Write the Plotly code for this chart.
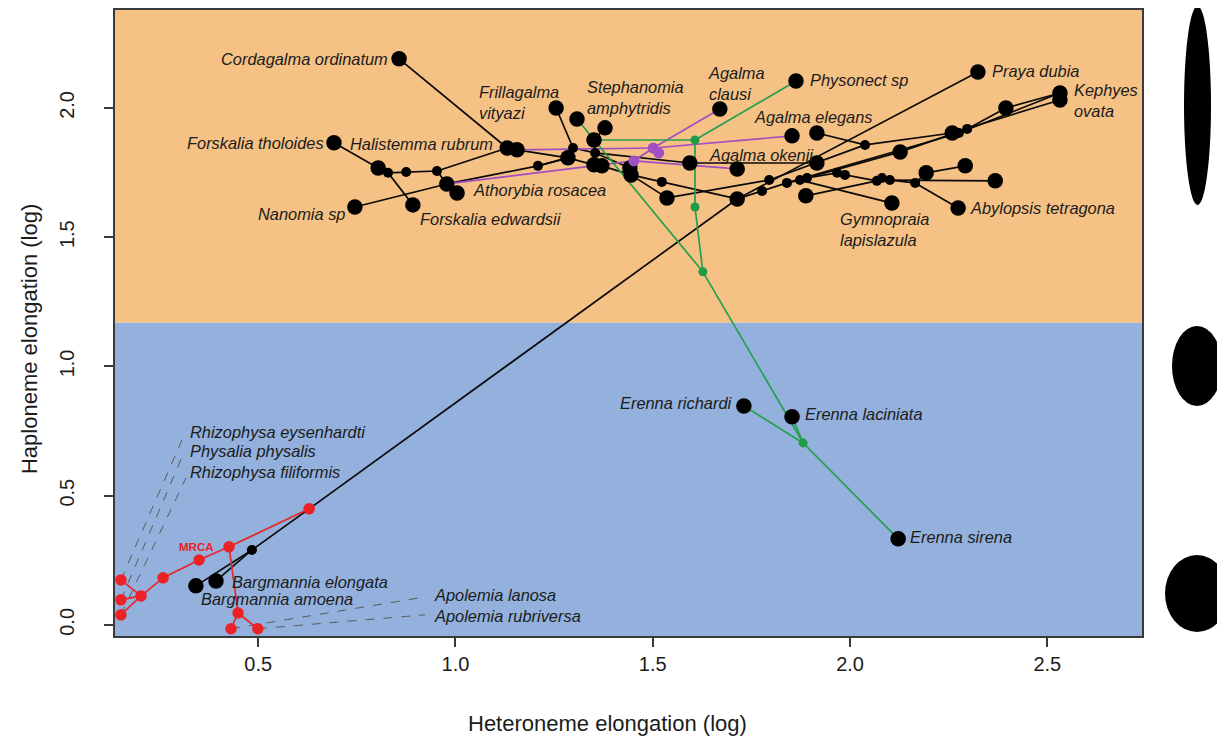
import plotly.graph_objects as go

# ---------------- data (log elongation values) ----------------
# node order: red (Cystonectae/Apolemia) part, Bargmannia, then Codonophora
node_x = [0.152, 0.152, 0.152, 0.203, 0.259, 0.350, 0.426, 0.449, 0.431, 0.499, 0.629,
          0.342, 0.393, 0.484,
          0.857, 0.692, 0.745, 0.892, 0.804, 0.829, 0.875, 0.953, 0.978, 1.004, 1.131, 1.156,
          1.209, 1.255, 1.308, 1.379, 1.351, 1.298, 1.354, 1.285, 1.351, 1.371, 1.442, 1.445,
          1.452, 1.501, 1.670, 1.607, 1.863, 1.594, 1.714, 1.853, 1.916, 1.523, 1.536, 1.607,
          1.627, 1.881, 1.731, 1.853, 2.122, 1.714, 1.777, 1.795, 1.840, 1.873, 1.891, 1.916,
          1.967, 1.987, 2.038, 2.127, 1.888, 2.068, 2.081, 2.101, 2.106, 2.165, 2.193, 2.259,
          2.276, 2.297, 2.292, 2.368, 2.274, 2.395, 2.324, 2.532, 2.532, 1.515]
node_y = [0.174, 0.097, 0.039, 0.112, 0.182, 0.251, 0.302, 0.046, -0.015, -0.015, 0.449,
          0.151, 0.170, 0.290,
          2.190, 1.865, 1.617, 1.625, 1.768, 1.749, 1.752, 1.756, 1.706, 1.671, 1.845, 1.838,
          1.776, 2.000, 1.957, 1.923, 1.876, 1.845, 1.826, 1.807, 1.780, 1.776, 1.768, 1.741,
          1.795, 1.845, 1.996, 1.876, 2.104, 1.787, 1.764, 1.892, 1.903, 1.714, 1.652, 1.617,
          1.366, 0.704, 0.847, 0.805, 0.333, 1.648, 1.679, 1.721, 1.710, 1.721, 1.729, 1.787,
          1.749, 1.741, 1.857, 1.830, 1.660, 1.718, 1.729, 1.721, 1.632, 1.710, 1.749, 1.903,
          1.903, 1.919, 1.776, 1.718, 1.613, 2.000, 2.139, 2.058, 2.031, 1.826]
node_kind = (['tip'] * 3 + ['node'] * 5 + ['tip'] * 2 + ['node']
             + ['tip', 'tip', 'node']
             + ['tip', 'tip', 'tip', 'tip', 'tip', 'node', 'node', 'node', 'tip', 'tip', 'tip', 'tip',
                'node', 'tip', 'tip', 'tip', 'tip', 'node', 'node', 'tip', 'tip', 'tip', 'tip', 'tip',
                'node', 'node', 'tip', 'node', 'tip', 'tip', 'tip', 'tip', 'tip', 'node', 'tip', 'node',
                'node', 'node', 'tip', 'tip', 'tip', 'tip', 'node', 'node', 'node', 'node', 'node', 'tip',
                'node', 'node', 'node', 'tip', 'tip', 'node', 'node', 'node', 'tip', 'node', 'tip', 'tip',
                'node', 'node', 'tip', 'tip', 'tip', 'tip', 'tip', 'tip', 'tip', 'node'])
node_regime = (['red'] * 11 + ['black'] * 27 + ['purple', 'purple', 'black', 'green', 'black', 'black',
               'black', 'black', 'black', 'black', 'black', 'green', 'green', 'green']
               + ['black'] * 31 + ['purple'])

edge_from = [0, 1, 2, 3, 4, 5, 6, 6, 7, 7,
             11, 12, 13, 10, 55,
             14, 15, 18, 19, 19, 20, 21, 21, 22, 16, 22, 26, 24,
             27, 31, 25, 26, 29, 30, 31, 32, 33, 34, 35, 32, 36, 37, 37, 47, 48, 43,
             55, 56, 57, 58, 59, 60, 62, 63, 66, 59, 67, 68, 69, 71, 71, 72, 69,
             60, 65, 75, 79, 46, 64, 73, 58, 74,
             25, 22, 38, 39, 39, 38, 39,
             30, 41, 41, 49, 50, 50, 51, 51, 51]
edge_to = [3, 3, 3, 4, 5, 6, 10, 7, 8, 9,
           13, 13, 10, 55, 80,
           24, 18, 19, 17, 20, 21, 24, 22, 23, 22, 26, 33, 25,
           31, 33, 33, 33, 30, 32, 32, 43, 34, 35, 37, 36, 37, 47, 48, 55, 57, 61,
           56, 58, 64, 59, 60, 62, 63, 67, 67, 70, 68, 69, 71, 78, 72, 76, 77,
           65, 75, 79, 81, 64, 73, 82, 74, 81,
           39, 38, 39, 40, 45, 44, 83,
           41, 42, 49, 50, 28, 51, 52, 53, 54]
edge_regime = (['red'] * 10 + ['black'] * 5 + ['black'] * 13 + ['black'] * 18
               + ['black'] * 17 + ['black'] * 9 + ['purple'] * 7 + ['green'] * 9)

label_names = ['Cordagalma ordinatum', 'Forskalia tholoides', 'Halistemma rubrum',
               'Frillagalma<br>vityazi', 'Stephanomia<br>amphytridis', 'Agalma<br>clausi',
               'Physonect sp', 'Agalma elegans', 'Agalma okenii', 'Praya dubia',
               'Kephyes<br>ovata', 'Athorybia rosacea', 'Nanomia sp', 'Forskalia edwardsii',
               'Gymnopraia<br>lapislazula', 'Abylopsis tetragona', 'Erenna richardi',
               'Erenna laciniata', 'Erenna sirena', 'Bargmannia elongata', 'Bargmannia amoena']
label_nodes = [14, 15, 24, 27, 28, 40, 42, 45, 44, 80, 81, 23, 16, 17, 70, 78, 52, 53, 54, 12, 11]

leader_names = ['Rhizophysa eysenhardti', 'Physalia physalis', 'Rhizophysa filiformis',
                'Apolemia lanosa', 'Apolemia rubriversa']
leader_nodes = [0, 1, 2, 8, 9]

tick_x = [0.5, 1.0, 1.5, 2.0, 2.5]
tick_y = [0.0, 0.5, 1.0, 1.5, 2.0]
tick_x_text = ['0.5', '1.0', '1.5', '2.0', '2.5']
tick_y_text = ['0.0', '0.5', '1.0', '1.5', '2.0']
x_title = 'Heteroneme elongation (log)'
y_title = 'Haploneme elongation (log)'
regime_break = 1.17   # haploneme elongation separating the two shaded regimes

# ---------------- styles / layout ----------------
X_RANGE = [0.137, 2.740]
Y_RANGE = [-0.043, 2.379]
FONT = 'Liberation Sans, Arial, Helvetica, sans-serif'
TXT = '#1c1c1c'
edge_col = {'black': '#0a0a0a', 'red': '#E8262A', 'green': '#24A04E', 'purple': '#A24FC2'}
dot_col = {'black': '#000000', 'red': '#EC2227', 'green': '#1E9A48', 'purple': '#A24FC2'}

# label placement (anchor, pixel shifts) in the same order as label_names
label_place = [('right', -9, 0), ('right', -8, 0), ('right', -12, 4), ('left', -79, 5.5),
               ('left', 8, 21.5), ('left', -14, 25.5), ('left', 12, 1), ('left', -40, 19),
               ('left', -30, 14), ('left', 12, 1), ('left', 12, -8), ('left', 14, 3),
               ('right', -8, -7), ('left', 5, -14), ('left', -54, -26), ('left', 10, 0),
               ('right', -9, 3), ('left', 11, 3), ('left', 10, 2), ('left', 14, -1),
               ('left', 3, -13)]
leader_label_pos = [(0.322, 0.747), (0.322, 0.673), (0.322, 0.592), (0.940, 0.116), (0.940, 0.035)]
leader_line_end = [(0.309, 0.723), (0.307, 0.650), (0.317, 0.569), (0.923, 0.108), (0.923, 0.039)]

fig = go.Figure()

# regime backgrounds
fig.add_shape(type='rect', xref='x', yref='y', x0=-1, x1=4, y0=-1, y1=regime_break,
              fillcolor='#93B1DC', line_width=0, layer='below')
fig.add_shape(type='rect', xref='x', yref='y', x0=-1, x1=4, y0=regime_break, y1=4,
              fillcolor='#F5C184', line_width=0, layer='below')

# dashed leader lines
lx, ly = [], []
for n, (ex, ey) in zip(leader_nodes, leader_line_end):
    lx += [node_x[n], ex, None]
    ly += [node_y[n], ey, None]
fig.add_trace(go.Scatter(x=lx, y=ly, mode='lines', hoverinfo='skip',
                         line=dict(color='#5a5a5a', width=1, dash='dash')))

# branches
for reg in ['black', 'red', 'purple', 'green']:
    ex, ey = [], []
    for a, b, r in zip(edge_from, edge_to, edge_regime):
        if r == reg:
            ex += [node_x[a], node_x[b], None]
            ey += [node_y[a], node_y[b], None]
    fig.add_trace(go.Scatter(x=ex, y=ey, mode='lines', hoverinfo='skip',
                             line=dict(color=edge_col[reg], width=1.7)))

# nodes
def size_of(kind, reg):
    if reg == 'red':
        return 11.5
    if reg == 'green':
        return 9
    if reg == 'purple':
        return 11
    return 15.5 if kind == 'tip' else 10

for reg in ['black', 'red', 'purple', 'green']:
    idx = [i for i, r in enumerate(node_regime) if r == reg]
    fig.add_trace(go.Scatter(
        x=[node_x[i] for i in idx], y=[node_y[i] for i in idx], mode='markers',
        opacity=1,
        marker=dict(color=dot_col[reg], opacity=1,
                    size=[size_of(node_kind[i], reg) for i in idx],
                    line=dict(width=0)),
        hoverinfo='skip'))

# species labels
for name, n, (anc, dx, dy) in zip(label_names, label_nodes, label_place):
    fig.add_annotation(x=node_x[n], y=node_y[n], xref='x', yref='y', showarrow=False,
                       text='<i>' + name + '</i>', xanchor=anc, yanchor='middle', align='left',
                       xshift=dx, yshift=dy, font=dict(family=FONT, size=16.4, color=TXT))
for name, (px_, py_) in zip(leader_names, leader_label_pos):
    fig.add_annotation(x=px_, y=py_, xref='x', yref='y', showarrow=False,
                       text='<i>' + name + '</i>', xanchor='left', yanchor='middle',
                       font=dict(family=FONT, size=16.4, color=TXT))
fig.add_annotation(x=node_x[6], y=node_y[6], xref='x', yref='y', showarrow=False,
                   text='<b>MRCA</b>', xanchor='right', yanchor='middle', xshift=-13, yshift=0,
                   font=dict(family=FONT, size=11.5, color='#EC2227'))

# axis titles (placed as in the original figure)
fig.add_annotation(x=0.480, y=-0.139, xref='paper', yref='paper', showarrow=False,
                   text=x_title, xanchor='center', yanchor='middle',
                   font=dict(family=FONT, size=22, color=TXT))
fig.add_annotation(x=-0.083, y=0.474, xref='paper', yref='paper', showarrow=False,
                   text=y_title, textangle=-90, xanchor='center', yanchor='middle',
                   font=dict(family=FONT, size=22, color=TXT))

# shape legend (ellipses) at the right margin
for x0, x1, y0, y1 in [(1.0409, 1.0672, 0.6885, 1.0064),
                       (1.0292, 1.0779, 0.3674, 0.4952),
                       (1.0224, 1.0847, 0.0064, 0.1294)]:
    fig.add_shape(type='circle', xref='paper', yref='paper', x0=x0, x1=x1, y0=y0, y1=y1,
                  fillcolor='black', line_width=0)

axis_common = dict(showgrid=False, zeroline=False, showline=True, mirror=True,
                   linecolor='#3a3a3a', linewidth=1.5, ticks='outside', ticklen=9,
                   tickwidth=1.5, tickcolor='#3a3a3a',
                   tickfont=dict(family=FONT, size=20, color=TXT))
fig.update_layout(
    width=1217, height=735,
    margin=dict(l=107, r=83, t=2, b=107),
    paper_bgcolor='white', plot_bgcolor='white',
    showlegend=False,
    xaxis=dict(range=X_RANGE, tickvals=tick_x, ticktext=tick_x_text,
               automargin=False, **axis_common),
    yaxis=dict(range=Y_RANGE, tickvals=tick_y, ticktext=tick_y_text, tickangle=-90,
               ticklabelstandoff=22, automargin=False, **axis_common),
)

fig.write_html('out.html')
